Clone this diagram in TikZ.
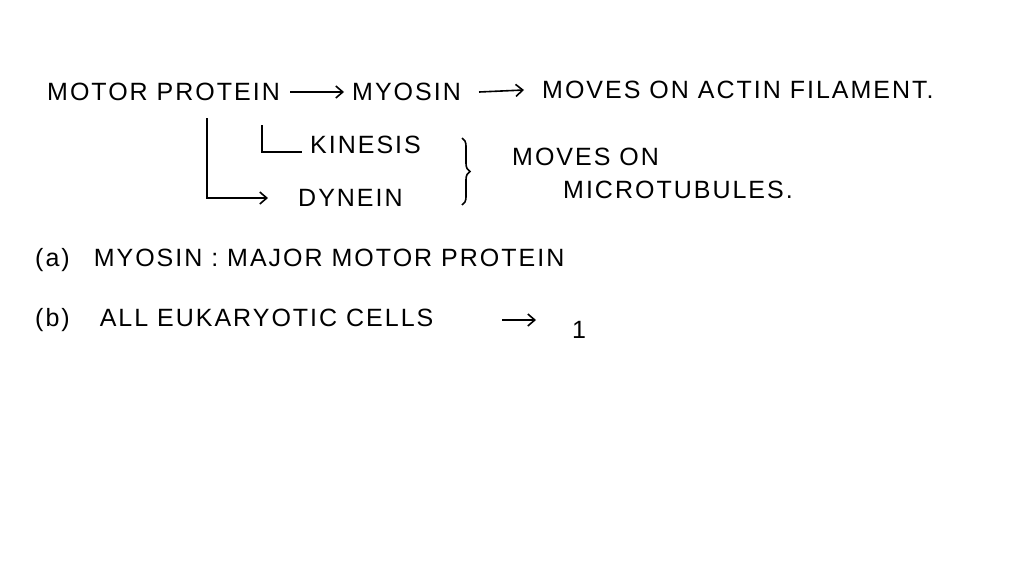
\documentclass[tikz,border=0pt]{standalone}
\usepackage{fontspec}
\setmainfont{Liberation Sans}[LetterSpace=8]
\usetikzlibrary{arrows.meta,decorations.pathreplacing}
\begin{document}
\begin{tikzpicture}[x=1pt,y=-1pt,
  t/.style={anchor=west,inner sep=0pt,font=\fontsize{25}{28}\selectfont},
  ar/.style={line width=1.6pt,-{Straight Barb[length=7pt,width=12pt]}},
  ln/.style={line width=1.6pt}]
\useasboundingbox (0,0) rectangle (1024,576);
\fill[white] (0,0) rectangle (1024,576);
\node[t] (mp) at (47,92) {MOTOR PROTEIN};
\node[t] (my) at (352,92) {MYOSIN};
\node[t] (ma) at (542,90) {MOVES ON ACTIN FILAMENT.};
\draw[ar] ([xshift=-62pt]my.west) -- ([xshift=-8pt]my.west);
\draw[ar] ([xshift=18pt]my.east) -- ([xshift=-18pt]ma.west);
\node[t] (ki) at (310,145) {KINESIS};
\node[t] (dy) at (298,198) {DYNEIN};
\coordinate (c1) at (262,125);
\coordinate (c2) at (207,118);
\draw[ln] (c1) |- ([xshift=-8pt]ki.west|-0,152);
\draw[ar] (c2) |- ([xshift=-30pt]dy.west);
\coordinate (b1) at (462,138);
\coordinate (b2) at (462,205);
\draw[ln,decorate,decoration={brace,amplitude=8pt,mirror}] (b2) -- (b1);
\node[t] (mo) at (512,157) {MOVES ON};
\node[t] (mt) at (563,190) {MICROTUBULES.};
\node[t] (qa) at (35,260) {(a)\hspace{24pt}MYOSIN : MAJOR MOTOR PROTEIN};
\node[t] (qb) at (35,320) {(b)\hspace{30pt}ALL EUKARYOTIC CELLS};
\node[t] (one) at (572,330) {1};
\draw[ar] ([xshift=-70pt]one.west|-qb.east) -- ([xshift=-36pt]one.west|-qb.east);
\end{tikzpicture}
\end{document}
